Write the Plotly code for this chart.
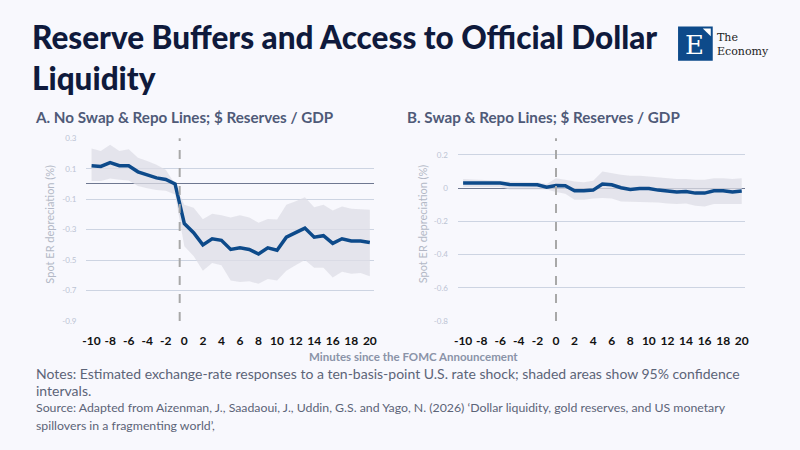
import plotly.graph_objects as go

minutes = list(range(-10, 21))

a_mean = [0.12, 0.115, 0.14, 0.12, 0.12, 0.08, 0.06, 0.04, 0.03, 0.0, -0.26, -0.32, -0.40, -0.36, -0.37, -0.43,
          -0.42, -0.43, -0.46, -0.42, -0.435, -0.35, -0.32, -0.29, -0.35, -0.34, -0.39, -0.36, -0.375, -0.375, -0.385]
a_upper = [0.233, 0.216, 0.258, 0.216, 0.228, 0.173, 0.151, 0.126, 0.094, 0.0, -0.136, -0.157, -0.232, -0.195, -0.206, -0.22,
           -0.206, -0.22, -0.255, -0.23, -0.234, -0.136, -0.114, -0.088, -0.153, -0.136, -0.174, -0.148, -0.163, -0.168, -0.17]
a_lower = [0.019, 0.019, 0.036, 0.027, 0.023, -0.013, -0.028, -0.04, -0.045, -0.07, -0.41, -0.474, -0.57, -0.52, -0.534, -0.634,
           -0.645, -0.64, -0.656, -0.624, -0.634, -0.57, -0.534, -0.5, -0.55, -0.55, -0.614, -0.577, -0.59, -0.585, -0.607]

b_mean = [0.031, 0.031, 0.031, 0.031, 0.031, 0.022, 0.02, 0.02, 0.02, 0.006, 0.016, 0.014, -0.016, -0.016, -0.012, 0.025,
          0.02, 0.002, -0.008, -0.002, -0.002, -0.012, -0.02, -0.024, -0.02, -0.03, -0.03, -0.016, -0.016, -0.024, -0.018]
b_upper = [0.055, 0.053, 0.05, 0.048, 0.045, 0.04, 0.038, 0.036, 0.035, 0.025, 0.06, 0.05, 0.04, 0.035, 0.045, 0.10,
           0.09, 0.08, 0.075, 0.075, 0.07, 0.065, 0.06, 0.055, 0.055, 0.05, 0.05, 0.06, 0.06, 0.055, 0.06]
b_lower = [0.006, 0.006, 0.006, 0.006, 0.006, -0.008, -0.008, -0.008, -0.008, -0.008, -0.024, -0.034, -0.07, -0.07, -0.063, -0.06,
           -0.063, -0.08, -0.082, -0.082, -0.082, -0.086, -0.092, -0.096, -0.092, -0.106, -0.11, -0.096, -0.096, -0.096, -0.096]

a_ticks = [-0.9, -0.7, -0.5, -0.3, -0.1, 0.1, 0.3]
a_tick_labels = ["-0.9", "-0.7", "-0.5", "-0.3", "-0.1", "0.1", "0.3"]
b_ticks = [-0.8, -0.6, -0.4, -0.2, 0, 0.2]
b_tick_labels = ["-0.8", "-0.6", "-0.4", "-0.2", "0", "0.2"]
x_ticks = list(range(-10, 21, 2))
x_tick_labels = [str(v) for v in x_ticks]
a_event = -0.5
b_event = 0

LINE = "#0d4a8a"
BAND = "rgba(222,222,230,0.75)"
BG = "#f8f8fd"
FONT = "Lato"

fig = go.Figure()

for (mean, up, lo, xa, ya) in [(a_mean, a_upper, a_lower, "x", "y"), (b_mean, b_upper, b_lower, "x2", "y2")]:
    fig.add_trace(go.Scatter(x=minutes, y=up, mode="lines", line=dict(width=0), hoverinfo="skip",
                             showlegend=False, xaxis=xa, yaxis=ya))
    fig.add_trace(go.Scatter(x=minutes, y=lo, mode="lines", line=dict(width=0), fill="tonexty",
                             fillcolor=BAND, hoverinfo="skip", showlegend=False, xaxis=xa, yaxis=ya))
    fig.add_trace(go.Scatter(x=minutes, y=mean, mode="lines", line=dict(color=LINE, width=3.5),
                             showlegend=False, xaxis=xa, yaxis=ya))

# event lines
fig.add_shape(type="line", xref="x", yref="y domain", x0=a_event, x1=a_event, y0=0, y1=1,
              line=dict(color="#a8a8a8", width=2, dash="dash"))
fig.add_shape(type="line", xref="x2", yref="y2 domain", x0=b_event, x1=b_event, y0=0, y1=1,
              line=dict(color="#a8a8a8", width=2, dash="dash"))

xcommon = dict(range=[-10.55, 20.4], tickvals=x_ticks, ticktext=x_tick_labels, showgrid=False, zeroline=False,
               showline=False, ticks="", tickangle=0, ticklabelstandoff=11,
               tickfont=dict(family=FONT, size=12, color="#111111", weight="bold"))
ycommon = dict(showgrid=True, gridcolor="#cdd4e2", gridwidth=1, zeroline=True, zerolinecolor="#6f7891",
               zerolinewidth=1.2, showline=False, ticks="", ticklabelstandoff=9,
               tickfont=dict(family=FONT, size=8, color="#bcc4d4"))

fig.update_layout(
    width=800, height=450,
    margin=dict(l=0, r=0, t=0, b=0),
    paper_bgcolor=BG, plot_bgcolor=BG,
    xaxis=dict(domain=[0.104, 0.466], anchor="y", **xcommon),
    xaxis2=dict(domain=[0.5725, 0.935], anchor="y2", **xcommon),
    yaxis=dict(domain=[0.282, 0.697], anchor="x", range=[-0.9, 0.3], tickvals=a_ticks,
               ticktext=a_tick_labels, **ycommon),
    yaxis2=dict(domain=[0.282, 0.697], anchor="x2", range=[-0.8, 0.3], tickvals=b_ticks,
                ticktext=b_tick_labels, **ycommon),
)

ann = []
ann.append(dict(text="Reserve Buffers and Access to Official Dollar<br>Liquidity", x=26, y=11,
                showarrow=False, xanchor="left", yanchor="top", align="left",
                font=dict(family=FONT, size=31.5, color="#0f1a3c", weight=900)))
ann.append(dict(text="A. No Swap &amp; Repo Lines; $ Reserves / GDP", x=29, y=115, showarrow=False,
                xanchor="left", yanchor="middle", font=dict(family=FONT, size=15.2, color="#4f5a78", weight="bold")))
ann.append(dict(text="B. Swap &amp; Repo Lines; $ Reserves / GDP", x=405, y=115, showarrow=False,
                xanchor="left", yanchor="middle", font=dict(family=FONT, size=15.2, color="#4f5a78", weight="bold")))
for yx in (45, 422):
    ann.append(dict(text="Spot ER depreciation (%)", x=yx, y=224, showarrow=False, textangle=-90,
                    xanchor="center", yanchor="middle", font=dict(family=FONT, size=11, color="#b3b8c6")))
ann.append(dict(text="Minutes since the FOMC Announcement", x=413, y=359.5, showarrow=False,
                xanchor="center", yanchor="middle", font=dict(family=FONT, size=11.5, color="#8a93a8", weight="bold")))
ann.append(dict(text="Notes: Estimated exchange-rate responses to a ten-basis-point U.S. rate shock; shaded areas show 95% confidence",
                x=30, y=376.5, showarrow=False, xanchor="left", yanchor="middle", align="left",
                font=dict(family=FONT, size=14, color="#5c6478")))
ann.append(dict(text="intervals.",
                x=30, y=394, showarrow=False, xanchor="left", yanchor="middle", align="left",
                font=dict(family=FONT, size=14, color="#5c6478")))
ann.append(dict(text="Source: Adapted from Aizenman, J., Saadaoui, J., Uddin, G.S. and Yago, N. (2026) ‘Dollar liquidity, gold reserves, and US monetary",
                x=30, y=412, showarrow=False, xanchor="left", yanchor="middle", align="left",
                font=dict(family=FONT, size=12.3, color="#5c6478")))
ann.append(dict(text="spillovers in a fragmenting world’,",
                x=30, y=430, showarrow=False, xanchor="left", yanchor="middle", align="left",
                font=dict(family=FONT, size=12.3, color="#5c6478")))
ann.append(dict(text="E", x=697, y=41, showarrow=False, xanchor="center", yanchor="middle",
                font=dict(family="DejaVu Serif", size=26, color="white")))
ann.append(dict(text="The<br>Economy", x=717, y=40, showarrow=False, xanchor="left", yanchor="middle", align="left",
                font=dict(family="DejaVu Serif", size=11, color="#222222")))

for a in ann:
    a["xref"] = "paper"; a["yref"] = "paper"
    a["x"] = a["x"] / 800
    a["y"] = 1 - a["y"] / 450
fig.update_layout(annotations=ann)

fig.add_shape(type="rect", xref="paper", yref="paper", x0=680/800, x1=715/800, y0=1-57/450, y1=1-22/450,
              fillcolor="#0d4a8a", line=dict(width=0), layer="above")
fig.add_shape(type="path", xref="paper", yref="paper",
              path=f"M {705/800} {1-24/450} L {713/800} {1-24/450} L {713/800} {1-32/450} Z",
              fillcolor="white", line=dict(width=0), layer="above")

fig.write_html("out.html", config={"displayModeBar": False},
               post_script="document.body.style.margin='0';document.body.style.background='#f8f8fd';")
